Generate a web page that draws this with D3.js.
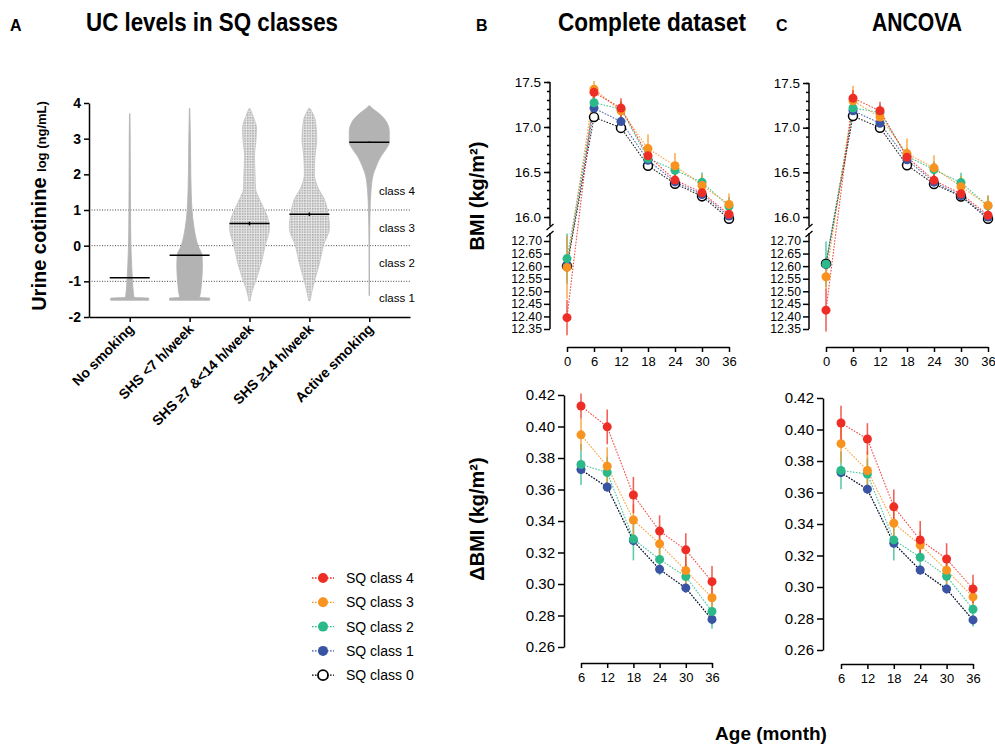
<!DOCTYPE html>
<html>
<head>
<meta charset="utf-8">
<script src="https://cdn.jsdelivr.net/npm/d3@7"></script>
<style>
  body { margin: 0; background: #fff; }
  svg { font-family: "Liberation Sans", Arial, sans-serif; }
</style>
</head>
<body>
<div id="chart"></div>
<script>
// ---- panel A: urine cotinine by smoking exposure group ----
const ucGroups = ["No smoking", "SHS <7 h/week", "SHS \u22657 &<14 h/week", "SHS \u226514 h/week", "Active smoking"];
const ucMedians = [-0.9, -0.27, 0.62, 0.88, 2.9];
const ucMeanErr = [0, 0, 0.05, 0.05, 0.02];
// density outline of each violin: [log value, relative half width]
const ucProfiles = [
  [[-1.53, 0.95], [-1.47, 0.95], [-1.45, 0.22], [-1.3, 0.18], [-1.0, 0.14], [-0.6, 0.1], [0, 0.06], [1, 0.04], [2, 0.03], [3, 0.025], [3.7, 0.01]],
  [[-1.53, 1.0], [-1.47, 1.0], [-1.45, 0.5], [-1.3, 0.55], [-1.0, 0.6], [-0.6, 0.64], [-0.27, 0.62], [0, 0.42], [0.5, 0.22], [1, 0.12], [1.5, 0.08], [2, 0.06], [3, 0.04], [3.85, 0.01]],
  [[-1.55, 0.03], [-1.3, 0.12], [-1.0, 0.3], [-0.5, 0.58], [0, 0.78], [0.5, 1.0], [0.8, 0.9], [1.0, 0.75], [1.3, 0.5], [1.6, 0.3], [2.0, 0.28], [2.5, 0.25], [3.0, 0.33], [3.3, 0.35], [3.6, 0.2], [3.85, 0.02]],
  [[-1.55, 0.03], [-1.3, 0.12], [-1.0, 0.25], [-0.5, 0.5], [0, 0.7], [0.5, 1.0], [1.0, 0.9], [1.3, 0.75], [1.6, 0.45], [2.0, 0.25], [2.5, 0.28], [3.0, 0.37], [3.5, 0.3], [3.85, 0.03]],
  [[-1.4, 0.01], [0, 0.015], [1.0, 0.04], [1.5, 0.08], [2.0, 0.2], [2.2, 0.33], [2.5, 0.58], [2.7, 0.83], [2.9, 1.0], [3.2, 1.0], [3.5, 0.83], [3.7, 0.5], [3.85, 0.15], [3.92, 0.02]]
];
const ucSpeckled = [false, false, true, true, false];
const classCuts = [1, 0, -1];
const classLabels = ["class 4", "class 3", "class 2", "class 1"];
const classLabelPos = [1.54, 0.5, -0.48, -1.46];

// ---- panels B/C ----
const sqClasses = ["SQ class 4", "SQ class 3", "SQ class 2", "SQ class 1", "SQ class 0"];
const sqColors = ["#ee2d24", "#f7931e", "#2cb98a", "#3a54a4", "#000"];
const months = [0, 6, 12, 18, 24, 30, 36];
const dMonths = [6, 12, 18, 24, 30, 36];

const bmiComplete = [
  [12.395, 17.385, 17.21, 16.68, 16.41, 16.27, 16.03],
  [12.595, 17.42, 17.18, 16.76, 16.57, 16.35, 16.14],
  [12.63, 17.27, 17.20, 16.65, 16.52, 16.385, 16.12],
  [12.605, 17.21, 17.06, 16.63, 16.39, 16.25, 16.01],
  [12.60, 17.11, 16.99, 16.57, 16.37, 16.23, 15.98]
];
const bmiCompleteErr = [
  [0.07, 0.07, 0.11, 0.09, 0.09, 0.10, 0.08],
  [0.125, 0.09, 0.10, 0.16, 0.14, 0.12, 0.12],
  [0.10, 0.07, 0.09, 0.09, 0.09, 0.11, 0.10],
  [0.02, 0.04, 0.04, 0.03, 0.03, 0.03, 0.03],
  [0.01, 0.02, 0.02, 0.02, 0.02, 0.02, 0.02]
];
const bmiAncova = [
  [12.425, 17.33, 17.19, 16.67, 16.41, 16.26, 16.02],
  [12.558, 17.30, 17.12, 16.71, 16.55, 16.34, 16.13],
  [12.608, 17.22, 17.17, 16.68, 16.53, 16.385, 16.125],
  [12.607, 17.19, 17.05, 16.64, 16.39, 16.24, 16.00],
  [12.61, 17.13, 17.00, 16.58, 16.37, 16.23, 15.98]
];
const bmiAncovaErr = [
  [0.085, 0.09, 0.10, 0.09, 0.09, 0.09, 0.08],
  [0.05, 0.17, 0.10, 0.17, 0.14, 0.12, 0.11],
  [0.09, 0.08, 0.09, 0.09, 0.09, 0.11, 0.115],
  [0.02, 0.04, 0.04, 0.03, 0.03, 0.03, 0.03],
  [0.01, 0.02, 0.02, 0.02, 0.02, 0.02, 0.02]
];
const dbmiComplete = [
  [0.413, 0.3998, 0.3565, 0.3336, 0.3217, 0.3015],
  [0.3947, 0.3748, 0.3406, 0.3255, 0.3085, 0.2913],
  [0.3759, 0.3708, 0.3285, 0.3156, 0.3047, 0.2826],
  [0.3727, 0.3616, 0.3275, 0.3094, 0.2975, 0.2775],
  [0.3725, 0.3614, 0.3272, 0.3092, 0.2973, 0.2773]
];
const dbmiCompleteErr = [
  [0.008, 0.011, 0.0115, 0.010, 0.0105, 0.010],
  [0.010, 0.012, 0.010, 0.009, 0.009, 0.009],
  [0.013, 0.010, 0.0135, 0.010, 0.008, 0.011],
  [0.003, 0.003, 0.003, 0.003, 0.003, 0.003],
  [0.002, 0.002, 0.002, 0.002, 0.002, 0.002]
];
const dbmiAncova = [
  [0.4041, 0.394, 0.3509, 0.3299, 0.3178, 0.2988],
  [0.391, 0.374, 0.3405, 0.3267, 0.3107, 0.2937],
  [0.374, 0.3717, 0.3299, 0.3189, 0.3068, 0.2859],
  [0.3727, 0.3621, 0.3278, 0.3108, 0.2988, 0.2791],
  [0.3725, 0.3619, 0.3276, 0.3106, 0.2986, 0.2789]
];
const dbmiAncovaErr = [
  [0.011, 0.010, 0.011, 0.012, 0.010, 0.009],
  [0.012, 0.012, 0.010, 0.009, 0.009, 0.009],
  [0.012, 0.010, 0.013, 0.010, 0.008, 0.011],
  [0.003, 0.003, 0.003, 0.003, 0.003, 0.003],
  [0.002, 0.002, 0.002, 0.002, 0.002, 0.002]
];

const svg = d3.select("#chart").append("svg")
  .attr("width", 995)
  .attr("height", 744);

const defs = svg.append("defs");
const pat = defs.append("pattern")
  .attr("id", "speck")
  .attr("width", 2.6).attr("height", 2.6)
  .attr("patternUnits", "userSpaceOnUse");
pat.append("rect").attr("width", 2.6).attr("height", 2.6).attr("fill", "#e6e6e6");
pat.append("rect").attr("width", 1.5).attr("height", 1.5).attr("fill", "#a6a6a6");

function styleAxis(g, size, weight) {
  g.selectAll("path, line").attr("stroke", "#000").attr("stroke-width", 1.5);
  g.selectAll("text").attr("fill", "#000").attr("font-size", size).attr("font-weight", weight || "normal");
}

// titles
function title(x, y, txt, len) {
  svg.append("text")
    .attr("x", x).attr("y", y)
    .attr("font-family", "'Liberation Sans Narrow', 'Liberation Sans', Arial, sans-serif")
    .attr("font-weight", "bold").attr("font-size", 26)
    .attr("textLength", len).attr("lengthAdjust", "spacingAndGlyphs")
    .text(txt);
}
function letter(x, y, txt) {
  svg.append("text").attr("x", x).attr("y", y)
    .attr("font-weight", "bold").attr("font-size", 16).text(txt);
}
letter(10, 31, "A");
letter(476, 31, "B");
letter(776, 31, "C");
title(86, 31, "UC levels in SQ classes", 252);
title(558, 31, "Complete dataset", 188);
title(872, 31, "ANCOVA", 90);

// ---------- panel A ----------
const yA = d3.scaleLinear().domain([-2, 4]).range([317, 103]);
const xA = d3.scalePoint().domain(ucGroups).range([89, 410]).padding(0.68);
const wA = d3.scaleLinear().domain([0, 1]).range([0, 20]);

const gA = svg.append("g");

gA.selectAll("line.cut")
  .data(classCuts)
  .join("line")
  .attr("x1", 89).attr("x2", 410)
  .attr("y1", d => yA(d)).attr("y2", d => yA(d))
  .attr("stroke", "#444").attr("stroke-width", 1)
  .attr("stroke-dasharray", "1,1.6");

ucGroups.forEach((grp, i) => {
  const cx = xA(grp);
  const area = d3.area()
    .curve(d3.curveMonotoneY)
    .y(d => yA(d[0]))
    .x0(d => cx - wA(d[1]))
    .x1(d => cx + wA(d[1]));
  gA.append("path")
    .attr("d", area(ucProfiles[i]))
    .attr("fill", ucSpeckled[i] ? "url(#speck)" : "#b3b3b3")
    .attr("stroke", ucSpeckled[i] ? "#c4c4c4" : "#b3b3b3")
    .attr("stroke-width", 0.8);
});

gA.selectAll("line.med")
  .data(ucGroups)
  .join("line")
  .attr("x1", d => xA(d) - 20).attr("x2", d => xA(d) + 20)
  .attr("y1", (d, i) => yA(ucMedians[i])).attr("y2", (d, i) => yA(ucMedians[i]))
  .attr("stroke", "#000").attr("stroke-width", 1.6);

gA.selectAll("line.sem")
  .data(ucGroups)
  .join("line")
  .attr("x1", d => xA(d)).attr("x2", d => xA(d))
  .attr("y1", (d, i) => yA(ucMedians[i] - ucMeanErr[i]))
  .attr("y2", (d, i) => yA(ucMedians[i] + ucMeanErr[i]))
  .attr("stroke", "#000").attr("stroke-width", 1.5);

gA.selectAll("text.cls")
  .data(classLabels)
  .join("text")
  .attr("x", 379)
  .attr("y", (d, i) => yA(classLabelPos[i]))
  .attr("dy", "0.35em")
  .attr("font-size", 11.5)
  .text(d => d);

gA.append("g")
  .attr("transform", "translate(89,0)")
  .call(d3.axisLeft(yA).ticks(6).tickSize(5).tickSizeOuter(0).tickFormat(d => String(d)))
  .call(g => styleAxis(g, 14, "bold"));

gA.append("g")
  .attr("transform", "translate(0,317)")
  .call(d3.axisBottom(xA).tickSize(5).tickSizeOuter(0).tickFormat(""))
  .call(g => styleAxis(g, 14, "bold"));

gA.selectAll("text.grp")
  .data(ucGroups)
  .join("text")
  .attr("transform", d => `translate(${xA(d) + 5},${330}) rotate(-45)`)
  .attr("text-anchor", "end")
  .attr("font-size", 14).attr("font-weight", "bold")
  .text(d => d);

const ylabA = gA.append("text")
  .attr("transform", "translate(46,206) rotate(-90)")
  .attr("text-anchor", "middle")
  .attr("font-weight", "bold");
ylabA.append("tspan").attr("font-size", 20).text("Urine cotinine ");
ylabA.append("tspan").attr("font-size", 13).text("log (ng/mL)");

// ---------- line panels ----------
const lineOrder = [3, 4, 2, 1, 0];
const markOrder = [4, 3, 2, 1, 0];

function drawSeries(g, xs, values, errs, xPos, yPos, showOpen) {
  const pts = values.map(row => row.map((v, j) => ({ m: xs[j], v })));
  const line = d3.line().x(d => xPos(d.m)).y(d => yPos(d.m, d.v));
  lineOrder.forEach(i => {
    g.append("path")
      .attr("d", line(pts[i]))
      .attr("fill", "none")
      .attr("stroke", sqColors[i])
      .attr("stroke-width", 1.1)
      .attr("stroke-opacity", 0.85)
      .attr("stroke-dasharray", "1.6,1.4");
  });
  markOrder.forEach(i => {
    g.append("g").selectAll("line")
      .data(pts[i])
      .join("line")
      .attr("x1", d => xPos(d.m)).attr("x2", d => xPos(d.m))
      .attr("y1", (d, j) => yPos(d.m, d.v - errs[i][j]))
      .attr("y2", (d, j) => yPos(d.m, d.v + errs[i][j]))
      .attr("stroke", sqColors[i])
      .attr("stroke-opacity", 0.75)
      .attr("stroke-width", 1.6);
  });
  markOrder.forEach(i => {
    if (i === 4 && !showOpen) return;
    g.append("g").selectAll("circle")
      .data(pts[i])
      .join("circle")
      .attr("cx", d => xPos(d.m))
      .attr("cy", d => yPos(d.m, d.v))
      .attr("r", 4.5)
      .attr("fill", i === 4 ? "#fff" : sqColors[i])
      .attr("stroke", i === 4 ? "#000" : "none")
      .attr("stroke-width", 1.5);
  });
}

function topPanel(cfg, values, errs) {
  const g = svg.append("g");
  const x = d3.scaleLinear().domain([0, 36]).range(cfg.xr);
  const yU = d3.scaleLinear().domain([16, 17.5]).range(cfg.yu);
  const yL = d3.scaleLinear().domain([12.35, 12.70]).range(cfg.yl);
  const yPos = (m, v) => (m === 0 ? yL(v) : yU(v));

  // upper segment
  g.append("g")
    .attr("transform", `translate(${cfg.ax},0)`)
    .call(d3.axisLeft(yU).tickValues(d3.range(16, 17.51, 0.1)).tickSize(3).tickFormat(""))
    .call(g => { g.select(".domain").remove(); styleAxis(g, 13.5); });
  g.append("g")
    .attr("transform", `translate(${cfg.ax},0)`)
    .call(d3.axisLeft(yU).tickValues([16, 16.5, 17, 17.5]).tickSize(6).tickFormat(d3.format(".1f")))
    .call(g => { g.select(".domain").remove(); styleAxis(g, 13.5); });
  // lower segment
  g.append("g")
    .attr("transform", `translate(${cfg.ax},0)`)
    .call(d3.axisLeft(yL).tickValues(d3.range(12.35, 12.701, 0.05)).tickSize(6).tickPadding(2).tickFormat(d3.format(".2f")))
    .call(g => { g.select(".domain").remove(); styleAxis(g, 12.3); });

  const y16 = yU(16), y127 = yL(12.70);
  const mid = (y16 + y127) / 2;
  g.append("line").attr("x1", cfg.ax).attr("x2", cfg.ax)
    .attr("y1", yU(17.5)).attr("y2", mid - 3)
    .attr("stroke", "#000").attr("stroke-width", 1.5);
  g.append("line").attr("x1", cfg.ax).attr("x2", cfg.ax)
    .attr("y1", mid + 4).attr("y2", yL(12.35))
    .attr("stroke", "#000").attr("stroke-width", 1.5);
  [mid - 2, mid + 5].forEach(yy => {
    g.append("line")
      .attr("x1", cfg.ax - 3.5).attr("y1", yy + 3)
      .attr("x2", cfg.ax + 3.5).attr("y2", yy - 3)
      .attr("stroke", "#000").attr("stroke-width", 1.3);
  });

  g.append("g")
    .attr("transform", `translate(0,${cfg.xy})`)
    .call(d3.axisBottom(x).tickValues(months).tickSize(5).tickSizeOuter(0).tickPadding(5))
    .call(g => styleAxis(g, 13));

  drawSeries(g, months, values, errs, x, yPos, true);
}

function bottomPanel(cfg, values, errs) {
  const g = svg.append("g");
  const x = d3.scaleLinear().domain([6, 36]).range(cfg.xr);
  const y = d3.scaleLinear().domain([0.26, 0.42]).range(cfg.yr);

  g.append("g")
    .attr("transform", `translate(${cfg.ax},0)`)
    .call(d3.axisLeft(y).tickValues(d3.range(0.26, 0.4201, 0.02)).tickSize(6).tickSizeOuter(0).tickFormat(d3.format(".2f")))
    .call(g => styleAxis(g, 15));

  g.append("g")
    .attr("transform", `translate(0,${cfg.xy})`)
    .call(d3.axisBottom(x).tickValues(dMonths).tickSize(5).tickSizeOuter(0).tickPadding(5))
    .call(g => styleAxis(g, 13));

  drawSeries(g, dMonths, values, errs, x, (m, v) => y(v), false);
}

topPanel({ ax: 550, xr: [567, 729], yu: [217, 82], yl: [329, 241], xy: 347 }, bmiComplete, bmiCompleteErr);
topPanel({ ax: 809, xr: [826, 988], yu: [217, 83], yl: [329, 241], xy: 347 }, bmiAncova, bmiAncovaErr);
bottomPanel({ ax: 564, xr: [581, 712], yr: [647, 395], xy: 663 }, dbmiComplete, dbmiCompleteErr);
bottomPanel({ ax: 823, xr: [841, 973], yr: [650, 398], xy: 664 }, dbmiAncova, dbmiAncovaErr);

// axis titles
svg.append("text")
  .attr("transform", "translate(484,196) rotate(-90)")
  .attr("text-anchor", "middle")
  .attr("font-size", 20).attr("font-weight", "bold")
  .text("BMI (kg/m\u00b2)");
svg.append("text")
  .attr("transform", "translate(484,519) rotate(-90)")
  .attr("text-anchor", "middle")
  .attr("font-size", 20).attr("font-weight", "bold")
  .text("\u0394BMI (kg/m\u00b2)");
svg.append("text")
  .attr("x", 771).attr("y", 740)
  .attr("text-anchor", "middle")
  .attr("font-size", 19).attr("font-weight", "bold")
  .text("Age (month)");

// legend
const legend = svg.append("g").attr("transform", "translate(323,578)");
const rows = legend.selectAll("g")
  .data(sqClasses)
  .join("g")
  .attr("transform", (d, i) => `translate(0,${i * 24.3})`);
rows.append("line")
  .attr("x1", -11).attr("x2", 11)
  .attr("stroke", (d, i) => sqColors[i])
  .attr("stroke-width", 1.3)
  .attr("stroke-dasharray", "1.6,1.4");
rows.append("circle")
  .attr("r", 5)
  .attr("fill", (d, i) => (i === 4 ? "#fff" : sqColors[i]))
  .attr("stroke", (d, i) => (i === 4 ? "#000" : "none"))
  .attr("stroke-width", 1.8);
rows.append("text")
  .attr("x", 23).attr("dy", "0.35em")
  .attr("font-size", 14)
  .text(d => d);
</script>
</body>
</html>
